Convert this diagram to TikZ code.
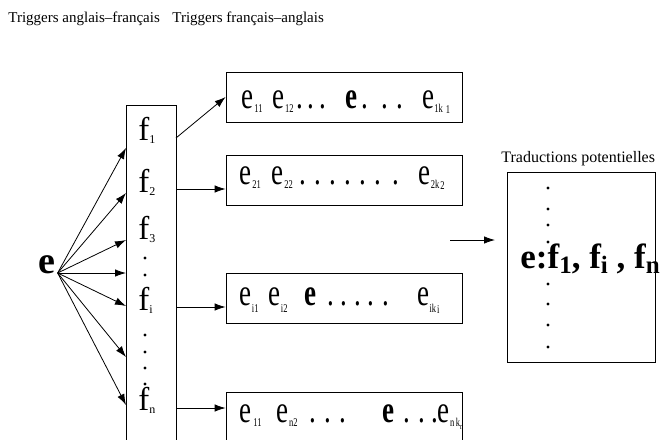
\documentclass[tikz,border=0pt]{standalone}
\usepackage{fontspec}
\setmainfont{Liberation Serif}
\usepackage{graphicx}
\usetikzlibrary{positioning, calc, arrows, arrows.meta}
\tikzset{>={Latex[length=11pt,width=7.5pt]}}
\newcommand{\sbx}[2][-3pt]{\raisebox{#1}{\fontsize{8.5}{8.5}\selectfont #2}}
\newcommand{\sbf}[1]{\raisebox{-3pt}{\fontsize{12}{12}\selectfont #1}}
\newcommand{\sbb}[1]{\raisebox{-5pt}{\fontsize{25}{25}\selectfont\bfseries #1}}
\newcommand{\stretched}[1]{\scalebox{1}[1.4]{#1}}

\begin{document}
\begin{tikzpicture}[x=1pt,y=-1pt,line width=0.8pt,
    box/.style={draw,inner sep=0pt,minimum width=236pt,minimum height=50pt},
    entry/.style={anchor=base west,inner sep=0pt,font=\fontsize{27}{27}\selectfont},
    flabel/.style={anchor=base west,inner sep=0pt,font=\fontsize{33}{33}\selectfont},
    caption/.style={anchor=base west,inner sep=0pt,font=\fontsize{15}{15}\selectfont}]
    \useasboundingbox (0,0) rectangle (660,439);
    \node[caption] (t1) at (8,22) {Triggers anglais–français};
    \node[caption] (t2) at (172,22) {Triggers français–anglais};

    % source word and its list of triggers
    \node[anchor=base west,inner xsep=2pt,inner ysep=0pt,font=\fontsize{38}{38}\selectfont\bfseries] (e) at (36,273) {e};
    \node[draw,inner sep=0pt,minimum width=50pt,minimum height=360pt,anchor=north west] (col) at (126,105) {};
    \node[flabel] (f1) at (138,140) {f\sbf{1}};
    \node[flabel] (f2) at (138,192) {f\sbf{2}};
    \node[flabel] (f3) at (138,239) {f\sbf{3}};
    \node[flabel] (fi) at (138,310) {f\sbf{i}};
    \node[flabel] (fn) at (138,410) {f\sbf{n}};
    \foreach \y in {258,275,335,352,368,384}
        \fill (145,\y) circle (1.7pt);

    % target sentences
    \node[box] (b1) at (344,97) {};
    \node[box] (b2) at (344,180) {};
    \node[box] (b3) at (344,298) {};
    \node[box] (b4) at (344,417) {};
    \node[entry] (l1) at (241,108) {\stretched{e\kern1pt\sbx{11}\hspace{10pt}e\kern0.5pt\sbx{12}\hspace{2.6pt}.\hspace{4.75pt}.\hspace{4.75pt}.\hspace{19.6pt}\textbf{e}\hspace{3.6pt}.\hspace{13.2pt}.\hspace{9.2pt}.\hspace{18.6pt}e\sbx{1k}\hspace{3pt}\sbx[-4pt]{1}}};
    \node[entry] (l2) at (239,184) {\stretched{e\kern1pt\sbx{21}\hspace{11pt}e\kern0.5pt\sbx{22}\hspace{7pt}.\hspace{8.25pt}.\hspace{8.25pt}.\hspace{8.25pt}.\hspace{8.25pt}.\hspace{8.25pt}.\hspace{11pt}.\hspace{19.6pt}e\sbx{2k}\hspace{1pt}\sbx[-4pt]{2}}};
    \node[entry] (l3) at (239,305) {\stretched{e\kern0.5pt\sbx[-5pt]{i1}\hspace{10pt}e\kern0.5pt\sbx[-5pt]{i2}\hspace{17pt}\textbf{e}\hspace{10.6pt}.\hspace{7pt}.\hspace{6.5pt}.\hspace{6.5pt}.\hspace{8pt}.\hspace{28.6pt}e\sbx[-5pt]{ik}\hspace{1pt}\sbx[-6pt]{i}}};
    \node[entry] (l4) at (239,422) {\stretched{e\kern2pt\sbx{11}\hspace{15pt}e\kern0.5pt\sbx{n2}\hspace{12pt}.\hspace{8.25pt}.\hspace{8.25pt}.\hspace{36pt}\textbf{e}\hspace{9.6pt}.\hspace{8.25pt}.\hspace{6.25pt}.\kern-1.4pt e\hspace{1pt}\sbx{n\,k\raisebox{-2pt}{\fontsize{6}{6}\selectfont n}}}};

    % result
    \node[anchor=base west,inner sep=0pt,font=\fontsize{16}{16}\selectfont] (cap) at (501,162) {Traductions potentielles};
    \node[draw,inner sep=0pt,minimum width=148pt,minimum height=190pt,anchor=north west] (res) at (507,172) {};
    \foreach \y in {188,209,225,242,284,304,325,347}
        \fill (548,\y) circle (1.7pt);
    \node[anchor=base west,inner sep=0pt,font=\fontsize{35}{35}\selectfont\bfseries] (out) at (520,268) {e:f\sbb{1}, f\sbb{i} , f\sbb{n}};

    \foreach \y [count=\i] in {148,193,240,273,306,357,405} {
        \coordinate (in\i) at (126,\y);
        \draw[->] (e.base east) -- (in\i);
    }
    \coordinate (out1) at (176,138);
    \coordinate (out2) at (176,189);
    \coordinate (out3) at (176,307);
    \coordinate (out4) at (176,408);
    \draw[->] (out1) -- (b1.west);
    \draw[->] (out2) -- (out2 -| b2.west);
    \draw[->] (out3) -- (out3 -| b3.west);
    \draw[->] (out4) -- (out4 -| b4.west);
    \coordinate (m1) at (450,240);
    \coordinate (m2) at (495,240);
    \draw[->] (m1) -- (m2);
\end{tikzpicture}
\end{document}
